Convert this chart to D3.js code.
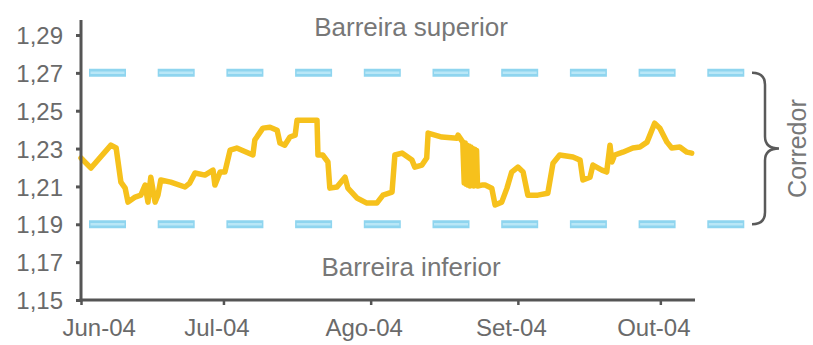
<!DOCTYPE html>
<html><head><meta charset="utf-8">
<script src="https://cdn.jsdelivr.net/npm/d3@7"></script>
<style>
html,body{margin:0;padding:0;background:#fff;}
svg{display:block;font-family:"Liberation Sans",Arial,sans-serif;}
</style></head>
<body>
<svg id="c" width="813" height="345"></svg>
<script>
// ---- data ----
const startDate = "2004-06-01";
const endDay = 129.3; // last day shown on axis (days after start)
const days = [0,2.1,6.3,7.4,8.4,9.3,9.9,11.4,12.6,13.5,14.1,14.7,15.6,16.2,16.8,18.9,21.9,22.9,24,26.1,27.8,28.2,29.3,30.3,31.4,32.8,36.2,36.6,38.3,39.8,41.3,41.9,42.9,44,45.1,45.5,49.7,49.9,50.9,52,52.4,53.9,55.6,56.2,58.1,60.2,62.3,63.6,65.5,66.1,67.6,69.7,70.3,71.8,72.8,73.1,76,79.2,79.4,80.4,80.7,80.9,81.1,81.3,81.5,81.7,81.9,82.1,82.3,82.5,82.7,82.9,83.1,83.3,83.5,84.4,85.1,86.5,87.2,88.6,89.7,90.7,92,93.1,94.1,96.2,98.3,99.4,100.8,103.6,105.1,105.7,107.2,107.8,109.7,110.7,111.4,111.8,112.4,114.1,116.2,117.7,119.2,119.8,120.8,121.9,123.4,124.4,126.1,127.6,128.6];
const rates = [1.225,1.2197,1.2318,1.2303,1.2123,1.2091,1.2017,1.2044,1.2054,1.2107,1.2017,1.2149,1.2017,1.2054,1.2134,1.2123,1.2097,1.2118,1.2171,1.216,1.2186,1.2107,1.2176,1.2176,1.2292,1.2303,1.2266,1.2345,1.2408,1.2413,1.2397,1.2329,1.2318,1.2361,1.2371,1.245,1.245,1.2266,1.2266,1.2229,1.2091,1.2097,1.2149,1.2091,1.2039,1.2012,1.2012,1.2054,1.207,1.2266,1.2276,1.2239,1.2202,1.2213,1.225,1.2382,1.2361,1.2355,1.2371,1.2334,1.2118,1.2329,1.2112,1.2318,1.2107,1.2313,1.2102,1.2308,1.2107,1.23,1.2102,1.2297,1.2105,1.229,1.2102,1.2107,1.2107,1.2091,1.2002,1.2017,1.2091,1.2176,1.2202,1.2176,1.2054,1.2054,1.2064,1.2223,1.2266,1.2255,1.2239,1.2134,1.2149,1.2213,1.2186,1.2176,1.2318,1.2229,1.2266,1.2281,1.2303,1.2308,1.2334,1.2371,1.2434,1.2408,1.2334,1.2303,1.2308,1.2281,1.2276];
const yTicks = [1.15,1.17,1.19,1.21,1.23,1.25,1.27,1.29];
const xTickDates = ["2004-06-01","2004-07-01","2004-08-01","2004-09-01","2004-10-01"];
const xTickLabels = ["Jun-04","Jul-04","Ago-04","Set-04","Out-04"];
const barriers = [1.27, 1.19];
const barrierLabels = ["Barreira superior","Barreira inferior"];
const corridorLabel = "Corredor";

// ---- drawing ----
const svg = d3.select("#c");
const DAY = 864e5;
const t0 = new Date(startDate + "T00:00:00Z");
const x = d3.scaleUtc().domain([t0, new Date(+t0 + endDay*DAY)]).range([81, 695]);
const y = d3.scaleLinear().domain([1.15, 1.29]).range([300, 35]);
const axisColor = "#555";
const textColor = "#6a6a6a";

// barrier dashed lines
const dashStart = 89, dashEnd = 745;
svg.selectAll("line.barrier").data(barriers).join("line")
  .attr("class","barrier")
  .attr("x1", dashStart).attr("x2", dashEnd)
  .attr("y1", d => y(d)).attr("y2", d => y(d))
  .attr("stroke", "#8fd5ef").attr("stroke-width", 8)
  .attr("stroke-dasharray", "37 31.7");
svg.selectAll("line.barrier2").data(barriers).join("line")
  .attr("class","barrier2")
  .attr("x1", dashStart+1.5).attr("x2", dashEnd)
  .attr("y1", d => y(d)).attr("y2", d => y(d))
  .attr("stroke", "#b9e7f7").attr("stroke-width", 2.5)
  .attr("stroke-dasharray", "34 34.7");

// series line
const data = days.map((d,i) => ({date: new Date(+t0 + d*DAY), v: rates[i]}));
svg.append("path").datum(data)
  .attr("fill","none").attr("stroke","#f6c11c").attr("stroke-width",5.5)
  .attr("stroke-linejoin","round").attr("stroke-linecap","round")
  .attr("d", d3.line().x(d => x(d.date)).y(d => y(d.v)));

// y axis
const gy = svg.append("g").attr("transform","translate(81,0)")
  .call(d3.axisLeft(y).tickValues(yTicks).tickSize(5).tickPadding(13)
    .tickFormat(d => d3.format(".2f")(d).replace(".", ",")));
gy.select(".domain").remove();
gy.selectAll(".tick line").attr("stroke", axisColor).attr("stroke-width", 3);
gy.selectAll(".tick text").attr("fill", textColor).attr("font-size", 24)
  .attr("font-family","'Liberation Sans',Arial,sans-serif").attr("dy","0.36em");
svg.append("line").attr("x1",81).attr("x2",81)
  .attr("y1", y(1.29) - 15).attr("y2", y(1.15) + 1.5)
  .attr("stroke", axisColor).attr("stroke-width", 3);

// x axis
const xTicks = xTickDates.map(s => new Date(s + "T00:00:00Z"));
const gx = svg.append("g").attr("transform","translate(0,300)")
  .call(d3.axisBottom(x).tickValues(xTicks).tickSize(5).tickPadding(14)
    .tickFormat((d,i) => xTickLabels[i]));
gx.select(".domain").remove();
gx.selectAll(".tick line").attr("stroke", axisColor).attr("stroke-width", 2.5);
gx.selectAll(".tick text").attr("fill", textColor).attr("font-size", 24)
  .attr("font-family","'Liberation Sans',Arial,sans-serif")
  .attr("dy","0.71em")
  .attr("text-anchor", (d,i) => i === 0 ? "start" : "middle")
  .attr("dx", (d,i) => i === 0 ? -19 : -7);
svg.append("line").attr("x1", 79.5).attr("x2", x.range()[1])
  .attr("y1", 300).attr("y2", 300)
  .attr("stroke", axisColor).attr("stroke-width", 3);

// barrier labels
svg.selectAll("text.blabel").data(barrierLabels).join("text")
  .attr("class","blabel")
  .attr("x", 411)
  .attr("y", (d,i) => i === 0 ? y(barriers[0]) - 37 : y(barriers[1]) + 52)
  .attr("text-anchor","middle").attr("font-size", 26).attr("fill", "#777")
  .text(d => d);

// brace
const yt = y(barriers[0]), yb = y(barriers[1]), ym = (yt + yb) / 2;
const bx = 752, sx = 765, tx = 779, r = 12;
svg.append("path")
  .attr("d", `M${bx},${yt} Q${sx},${yt} ${sx},${yt+r} L${sx},${ym-r} Q${sx},${ym} ${tx},${ym} Q${sx},${ym} ${sx},${ym+r} L${sx},${yb-r} Q${sx},${yb} ${bx},${yb}`)
  .attr("fill","none").attr("stroke","#5a5a5a").attr("stroke-width",2.5);

svg.append("text")
  .attr("transform", `translate(806,${ym}) rotate(-90)`)
  .attr("text-anchor","middle").attr("font-size", 25).attr("fill","#777")
  .text(corridorLabel);
</script>
</body></html>
